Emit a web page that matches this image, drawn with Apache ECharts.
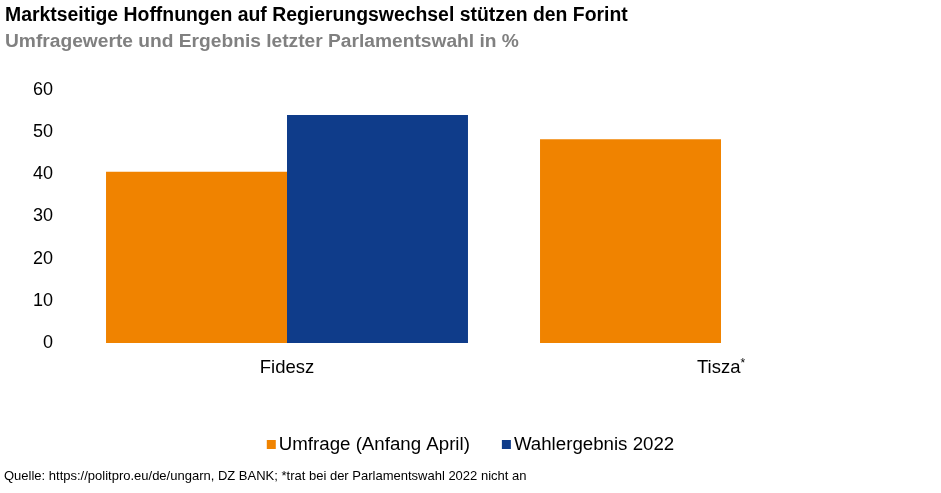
<!DOCTYPE html>
<html><head><meta charset="utf-8">
<script src="https://cdn.jsdelivr.net/npm/echarts@6/dist/echarts.min.js"></script>
<style>html,body{margin:0;padding:0;background:#fff}#c{width:941px;height:493px}</style>
</head><body><div id="c"></div>
<script>
const categories = ['Fidesz', 'Tisza*'];
const umfrage = [40.6, 48.3];
const wahl2022 = [54.1, null];
const seriesNames = ['Umfrage (Anfang April)', 'Wahlergebnis 2022'];
const titleText = 'Marktseitige Hoffnungen auf Regierungswechsel stützen den Forint';
const subtitleText = 'Umfragewerte und Ergebnis letzter Parlamentswahl in %';
const sourceText = 'Quelle: https://politpro.eu/de/ungarn, DZ BANK; *trat bei der Parlamentswahl 2022 nicht an';

const chart = echarts.init(document.getElementById('c'));
const F = 'Liberation Sans, Arial, sans-serif';
chart.setOption({
  animation: false,
  textStyle: {fontFamily: F},
  title: [
    {text: titleText, left: 5, top: 6, padding: 0, textStyle: {fontFamily: F, fontSize: 19.4, fontWeight: 'bold', color: '#000'}},
    {text: subtitleText, left: 5, top: 32, padding: 0, textStyle: {fontFamily: F, fontSize: 19.2, fontWeight: 'bold', color: '#808080'}},
    {text: sourceText, left: 4, top: 470, padding: 0, textStyle: {fontFamily: F, fontSize: 13, fontWeight: 'normal', color: '#000'}}
  ],
  legend: {
    top: 430, left: 'center', itemWidth: 9, itemHeight: 9, itemGap: 32, icon: 'rect',
    textStyle: {fontFamily: F, fontSize: 18.7, color: '#000', padding: [0,0,0,-2]},
    data: seriesNames
  },
  grid: {left: 70, right: 3, top: 90, bottom: 150},
  xAxis: {
    type: 'category', data: categories,
    axisLine: {show: false}, axisTick: {show: false},
    axisLabel: {
      fontSize: 18.5, color: '#000', margin: 15,
      formatter: function (v) {
        if (v.endsWith('*')) return v.slice(0, -1) + '{sup|*}';
        return v;
      },
      rich: {sup: {fontSize: 12, verticalAlign: 'top', padding: [0, 0, 6, 0], color: '#000', fontFamily: F}}
    }
  },
  yAxis: {
    type: 'value', min: 0, max: 60, interval: 10,
    axisLine: {show: false}, axisTick: {show: false}, splitLine: {show: false},
    axisLabel: {fontSize: 18, color: '#000', margin: 17}
  },
  series: [
    {name: seriesNames[0], type: 'bar', data: umfrage, barGap: '0%', barCategoryGap: '16.6%', itemStyle: {color: '#F08300'}},
    {name: seriesNames[1], type: 'bar', data: wahl2022, itemStyle: {color: '#0F3C8A'}}
  ]
});
</script></body></html>
